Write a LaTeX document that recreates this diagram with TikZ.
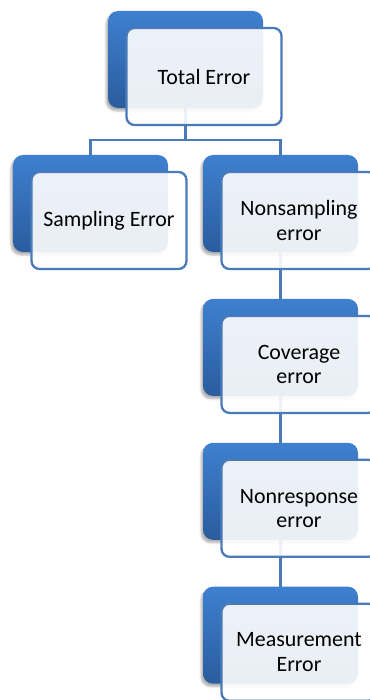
\documentclass[tikz,border=0pt]{standalone}
\usepackage{fontspec}
\setmainfont{Carlito}
\usetikzlibrary{positioning,shadows.blur,backgrounds}
\definecolor{boxtop}{RGB}{62,128,208}
\definecolor{boxbot}{RGB}{42,92,158}
\definecolor{frameblue}{RGB}{74,122,184}
\begin{document}
\begin{tikzpicture}[x=1bp,y=-1bp,
  back/.style={rounded corners=10bp,minimum width=155bp,minimum height=97bp,
    top color=boxtop,bottom color=boxbot,
    blur shadow={shadow xshift=-2bp,shadow yshift=-3bp,shadow opacity=30}},
  front/.style={draw=frameblue,line width=2.3bp,rounded corners=8bp,fill=white,
    fill opacity=.9,text opacity=1,minimum width=155bp,minimum height=97bp,
    align=center,font=\fontsize{22}{24.5}\selectfont,xshift=18.5bp,yshift=-17bp},
  link/.style={draw=frameblue,line width=2.3bp}]
\useasboundingbox (0,0) rectangle (369,700);
\node [back] (total) at (185.5,59.5) {};
\node [back] (samp) at (90.5,203.5) {};
\node [back] (nonsamp) at (280.5,203.5) {};
\node [back,below=46.5bp of nonsamp] (cover) {};
\node [back,below=46.5bp of cover] (nonresp) {};
\node [back,below=46.5bp of nonresp] (measure) {};
\node [front] (totalf) at (total) {Total Error};
\node [front] (sampf) at (samp) {Sampling Error};
\node [front] (nonsampf) at (nonsamp) {Nonsampling\\error};
\node [front] (coverf) at (cover) {Coverage\\error};
\node [front] (nonrespf) at (nonresp) {Nonresponse\\error};
\node [front] (measuref) at (measure) {Measurement\\Error};
\begin{scope}[on background layer]
\coordinate (bus) at ([yshift=-32bp]total.south);
\draw [link] (total.south) -- (bus);
\draw [link] (samp.north) |- (bus) -| (nonsamp.north);
\draw [link] (nonsamp.south) -- (cover.north) (cover.south) -- (nonresp.north)
  (nonresp.south) -- (measure.north);
\end{scope}
\end{tikzpicture}
\end{document}
